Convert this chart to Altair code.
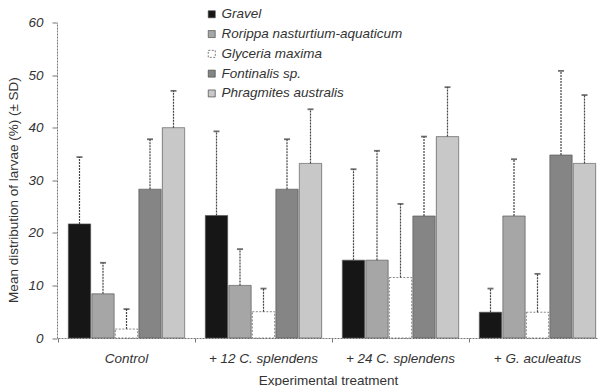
import altair as alt
import pandas as pd

treatments = ["Control", "+ 12 C. splendens", "+ 24 C. splendens", "+ G. aculeatus"]
series = ["Gravel", "Rorippa nasturtium-aquaticum", "Glyceria maxima", "Fontinalis sp.", "Phragmites australis"]
colors = ["#161616", "#a6a6a6", "#ffffff", "#858585", "#c8c8c8"]

mean_gravel = [21.7, 23.3, 14.8, 4.9]
mean_rorippa = [8.4, 10.0, 14.8, 23.2]
mean_glyceria = [1.7, 5.0, 11.5, 4.9]
mean_fontinalis = [28.3, 28.3, 23.2, 34.8]
mean_phragmites = [40.0, 33.2, 38.3, 33.2]

sd_gravel = [12.7, 16.0, 17.3, 4.5]
sd_rorippa = [5.9, 6.9, 20.8, 10.8]
sd_glyceria = [3.8, 4.4, 14.0, 7.3]
sd_fontinalis = [9.5, 9.5, 15.1, 16.0]
sd_phragmites = [7.0, 10.3, 9.4, 13.0]

means = [mean_gravel, mean_rorippa, mean_glyceria, mean_fontinalis, mean_phragmites]
sds = [sd_gravel, sd_rorippa, sd_glyceria, sd_fontinalis, sd_phragmites]

rows = []
for s, mlist, slist in zip(series, means, sds):
    for t, m, sd in zip(treatments, mlist, slist):
        rows.append({"treatment": t, "series": s, "mean": m, "upper": m + sd})
df = pd.DataFrame(rows)

FONT = "Liberation Sans"
TXT = "#333333"

x = alt.X("treatment:N", sort=treatments,
          scale=alt.Scale(range=[1, 549], paddingInner=0, paddingOuter=0),
          axis=alt.Axis(title="Experimental treatment", labelAngle=0, bandPosition=0,
                        tickSize=4, labelPadding=9,
                        labelFontStyle="italic", titleY=35, titleX=271))
xo = alt.XOffset("series:N", sort=series,
                 scale=alt.Scale(paddingInner=0.05, paddingOuter=0.44))
y = alt.Y("mean:Q", scale=alt.Scale(domain=[0, 60], nice=False),
          axis=alt.Axis(title="Mean distribution of larvae (%) (± SD)", values=[0, 10, 20, 30, 40, 50, 60],
                        tickSize=5, labelPadding=9, labelFontStyle="italic", grid=False,
                        titleX=-44, titleY=167, titleAngle=270, titleAlign="center",
                        titleBaseline="middle"))

bars = alt.Chart(df).mark_bar(stroke="#555555", strokeWidth=0.7).encode(
    x=x, xOffset=xo, y=y,
    fill=alt.Fill("series:N", sort=series, scale=alt.Scale(domain=series, range=colors),
                  legend=alt.Legend(title=None, orient="none", legendX=148, legendY=-15,
                                    symbolType="square", symbolSize=49, rowPadding=4.8,
                                    labelOffset=3,
                                    labelFontStyle="italic", labelFontSize=13.5, labelLimit=0,
                                    labelFont=FONT, labelColor=TXT, padding=0,
                                    symbolStrokeColor="#444444", symbolStrokeWidth=0.7)),
    strokeDash=alt.StrokeDash("series:N", sort=series,
                              scale=alt.Scale(domain=series, range=[[1, 0], [1, 0], [2, 1.5], [1, 0], [1, 0]]),
                              legend=None),
)

err = alt.Chart(df).mark_rule(color="#444444", strokeWidth=1.2, strokeDash=[2, 1]).encode(
    x=alt.X("treatment:N", sort=treatments), xOffset=alt.XOffset("series:N", sort=series),
    y="mean:Q", y2="upper:Q")

caps = alt.Chart(df).mark_tick(color="#333333", orient="horizontal", size=6, thickness=1.8).encode(
    x=alt.X("treatment:N", sort=treatments), xOffset=alt.XOffset("series:N", sort=series),
    y="upper:Q")

chart = alt.layer(bars, err, caps).properties(
    width=541, height=315.5,
    background="white",
    autosize=alt.AutoSizeParams(type="none"),
    padding={"left": 57, "top": 22.5, "right": 0, "bottom": 48},
).configure_view(stroke=None).configure_axis(
    labelFont=FONT, titleFont=FONT, labelFontSize=13.5, titleFontSize=13.5,
    labelColor=TXT, titleColor=TXT, titleFontWeight="normal",
    domainColor="#777777", domainDash=[2, 1], tickColor="#777777",
)

chart.save("out.html", embed_options={"renderer": "svg", "actions": False})
